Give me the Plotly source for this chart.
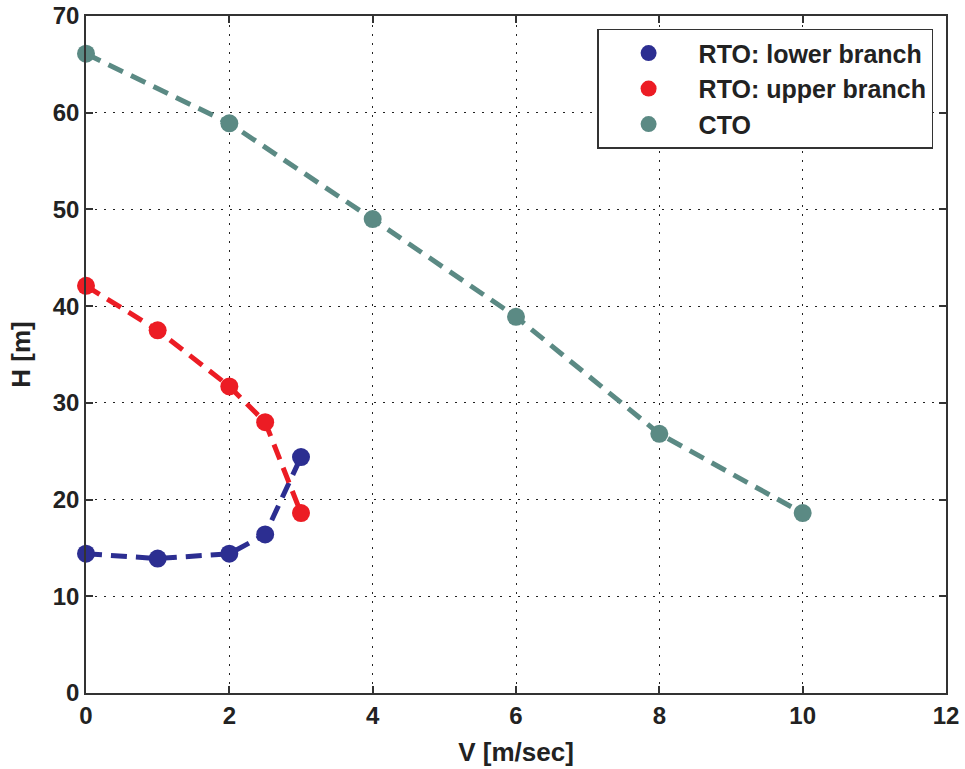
import plotly.graph_objects as go

# Data
v_lower = [0, 1, 2, 2.5, 3]
h_lower = [14.4, 13.9, 14.4, 16.4, 24.4]

v_upper = [0, 1, 2, 2.5, 3]
h_upper = [42.1, 37.5, 31.7, 28.0, 18.6]

v_cto = [0, 2, 4, 6, 8, 10]
h_cto = [66.1, 58.9, 49.0, 38.9, 26.8, 18.6]

x_ticks = [0, 2, 4, 6, 8, 10, 12]
y_ticks = [0, 10, 20, 30, 40, 50, 60, 70]

names = ["RTO: lower branch", "RTO: upper branch", "CTO"]
colors = ["#2c2e91", "#ec1c24", "#5b8a84"]
series = [(v_lower, h_lower), (v_upper, h_upper), (v_cto, h_cto)]

FONT = "Liberation Sans, Arial, sans-serif"

fig = go.Figure()
for (xs, ys), c in zip(series, colors):
    fig.add_trace(go.Scatter(
        x=xs, y=ys, mode="lines+markers", showlegend=False,
        line=dict(color=c, width=5, dash="16px,9px"),
        marker=dict(color=c, size=18),
        cliponaxis=False,
    ))
for n, c in zip(names, colors):
    fig.add_trace(go.Scatter(
        x=[None], y=[None], mode="markers", name=n,
        marker=dict(color=c, size=18),
    ))

axis_common = dict(
    showline=True, linecolor="#333333", linewidth=1.5, mirror="ticks",
    ticks="inside", ticklen=7, tickcolor="#333333", tickwidth=1.5,
    showgrid=True, gridcolor="#222222", gridwidth=1, griddash="2px,7px",
    zeroline=False, automargin=False,
    tickfont=dict(family=FONT, size=24, color="#222222", weight="bold"),
)

fig.update_xaxes(range=[0, 12], tickvals=x_ticks,
                 title=dict(text="V [m/sec]",
                            font=dict(family=FONT, size=26, color="#222222", weight="bold")),
                 **axis_common)
fig.update_yaxes(range=[0, 70], tickvals=y_ticks,
                 title=dict(text="H [m]",
                            font=dict(family=FONT, size=26, color="#222222", weight="bold")),
                 **axis_common)

fig.update_layout(
    width=965, height=769,
    margin=dict(l=86, r=19, t=16, b=76),
    paper_bgcolor="white", plot_bgcolor="white",
    legend=dict(
        x=0.985, y=0.981, xanchor="right", yanchor="top",
        bgcolor="white", bordercolor="#333333", borderwidth=1.5,
        font=dict(family=FONT, size=25, color="#222222", weight="bold"),
        itemwidth=90,
    ),
)

fig.write_html("out.html",
               config={"displayModeBar": False},
               post_script="document.body.style.margin='0';document.body.style.overflow='hidden';")
